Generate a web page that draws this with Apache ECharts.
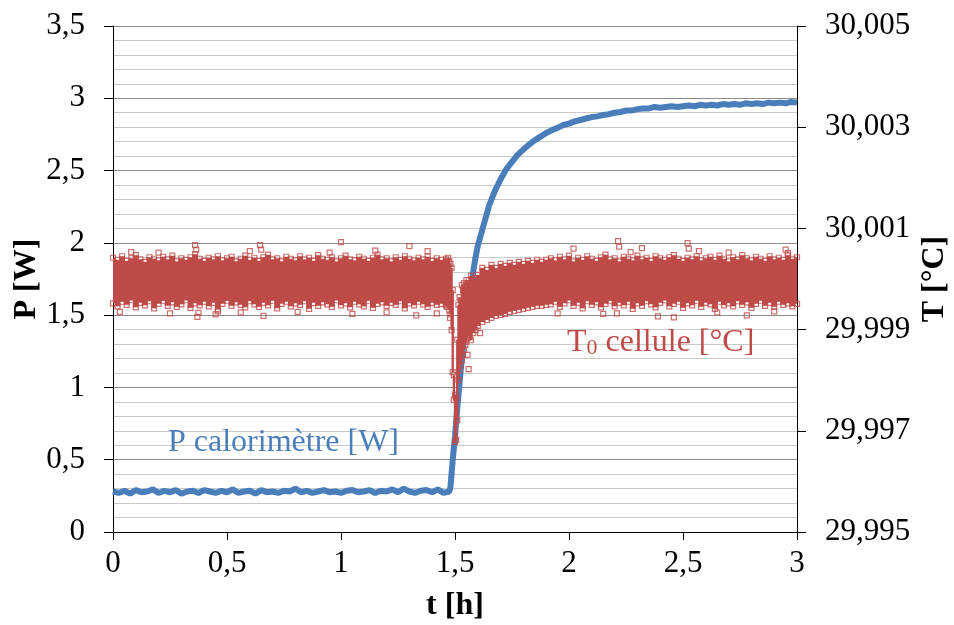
<!DOCTYPE html>
<html>
<head>
<meta charset="utf-8">
<script src="https://cdn.jsdelivr.net/npm/echarts@6/dist/echarts.min.js"></script>
<style>
html,body{margin:0;padding:0;background:#fff;}
#chart{width:954px;height:625px;}
</style>
</head>
<body>
<div id="chart"></div>
<script>
// ---------- Data ----------
// x ticks / axis ranges
const xTicks = [0, 0.5, 1, 1.5, 2, 2.5, 3];
const pTicks = [0, 0.5, 1, 1.5, 2, 2.5, 3, 3.5];
const tTicks = [29.995, 29.997, 29.999, 30.001, 30.003, 30.005];

// P calorimètre [W] : time [h] and power [W]
const tP = [0,0.025,0.05,0.075,0.1,0.125,0.15,0.175,0.2,0.225,0.25,0.275,0.3,0.325,0.35,0.375,0.4,0.425,0.45,0.475,
0.5,0.525,0.55,0.575,0.6,0.625,0.65,0.675,0.7,0.725,0.75,0.775,0.8,0.825,0.85,0.875,0.9,0.925,0.95,0.975,
1,1.025,1.05,1.075,1.1,1.125,1.15,1.175,1.2,1.225,1.25,1.275,1.3,1.325,1.35,1.375,1.4,1.425,1.45,1.475,
1.48,1.49,1.5,1.51,1.52,1.53,1.54,1.55,1.56,1.57,1.58,1.59,
1.6,1.625,1.65,1.675,1.7,1.725,1.75,1.775,1.8,1.825,1.85,1.875,1.9,1.925,1.95,1.975,2,2.025,2.05,2.075,
2.1,2.125,2.15,2.175,2.2,2.225,2.25,2.275,2.3,2.325,2.35,2.375,2.4,2.425,2.45,2.475,2.5,2.525,2.55,2.575,
2.6,2.625,2.65,2.675,2.7,2.725,2.75,2.775,2.8,2.825,2.85,2.875,2.9,2.925,2.95,2.975,3];
const pVal = [0.28,0.27,0.285,0.265,0.29,0.275,0.28,0.295,0.27,0.285,
0.275,0.29,0.265,0.28,0.285,0.27,0.29,0.28,0.27,0.285,
0.275,0.295,0.27,0.28,0.285,0.265,0.29,0.275,0.28,0.27,
0.285,0.28,0.3,0.275,0.285,0.27,0.28,0.29,0.275,0.28,
0.27,0.285,0.29,0.275,0.28,0.29,0.27,0.285,0.28,0.295,
0.275,0.3,0.28,0.27,0.285,0.29,0.275,0.295,0.27,0.28,
0.31,0.5,0.66,0.86,1.03,1.2,1.35,1.46,1.56,1.68,1.8,1.9,
1.98,2.12,2.26,2.36,2.44,2.51,2.56,2.61,2.645,2.68,
2.71,2.735,2.76,2.78,2.795,2.815,2.825,2.84,2.85,2.86,
2.87,2.875,2.885,2.89,2.9,2.905,2.915,2.915,2.925,2.93,
2.93,2.94,2.935,2.94,2.945,2.94,2.945,2.95,2.945,2.955,
2.95,2.955,2.95,2.96,2.955,2.96,2.955,2.965,2.96,2.965,
2.96,2.97,2.965,2.97,2.965,2.975,2.97];

// T0 cellule [°C] : dense scatter band, sampled as time, lower and upper edge
const tBand = [0,0.02,0.04,0.06,0.08,0.1,0.12,0.14,0.16,0.18,0.2,0.22,0.24,0.26,0.28,0.3,0.32,0.34,0.36,0.38,
0.4,0.42,0.44,0.46,0.48,0.5,0.52,0.54,0.56,0.58,0.6,0.62,0.64,0.66,0.68,0.7,0.72,0.74,0.76,0.78,
0.8,0.82,0.84,0.86,0.88,0.9,0.92,0.94,0.96,0.98,1,1.02,1.04,1.06,1.08,1.1,1.12,1.14,1.16,1.18,
1.2,1.22,1.24,1.26,1.28,1.3,1.32,1.34,1.36,1.38,1.4,1.42,1.44,
1.46,1.465,1.47,1.475,1.48,1.485,1.49,1.495,1.5,1.505,1.51,1.515,1.52,1.525,1.53,1.535,1.54,1.545,1.55,1.555,1.56,
1.57,1.58,1.59,1.6,
1.62,1.64,1.66,1.68,1.7,1.72,1.74,1.76,1.78,1.8,1.82,1.84,1.86,1.88,1.9,
1.92,1.94,1.96,1.98,2,2.02,2.04,2.06,2.08,2.1,2.12,2.14,2.16,2.18,2.2,2.22,2.24,2.26,2.28,2.3,
2.32,2.34,2.36,2.38,2.4,2.42,2.44,2.46,2.48,2.5,2.52,2.54,2.56,2.58,2.6,2.62,2.64,2.66,2.68,2.7,
2.72,2.74,2.76,2.78,2.8,2.82,2.84,2.86,2.88,2.9,2.92,2.94,2.96,2.98,3];
const tHi = [30.00042,30.00038,30.00045,30.00036,30.00041,30.00047,30.00039,30.00034,30.00043,30.00040,
30.00037,30.00044,30.00039,30.00046,30.00035,30.00041,30.00038,30.00043,30.00049,30.00040,
30.00036,30.00042,30.00039,30.00045,30.00037,30.00041,30.00044,30.00035,30.00040,30.00046,
30.00038,30.00042,30.00036,30.00043,30.00048,30.00039,30.00041,30.00035,30.00044,30.00040,
30.00037,30.00045,30.00039,30.00042,30.00036,30.00047,30.00040,30.00038,30.00043,30.00035,
30.00041,30.00046,30.00039,30.00037,30.00044,30.00040,30.00036,30.00042,30.00048,30.00039,
30.00041,30.00035,30.00043,30.00038,30.00045,30.00040,30.00037,30.00042,30.00039,30.00044,
30.00036,30.00041,30.00038,
30.00040,30.00036,30.00042,30.00035,30.00030,30.00022,29.99978,29.99810,29.99771,29.99765,
29.99880,29.99949,29.99964,29.99958,29.99988,29.99978,29.99992,29.99984,29.99998,29.99992,29.99998,
30.00006,29.99996,30.00002,30.00008,
30.00022,30.00018,30.00028,30.00022,30.00030,30.00026,30.00032,30.00028,30.00034,30.00030,
30.00036,30.00032,30.00038,30.00034,30.00038,
30.00041,30.00037,30.00044,30.00039,30.00046,30.00035,30.00042,30.00038,30.00045,30.00040,
30.00036,30.00043,30.00048,30.00039,30.00041,30.00035,30.00044,30.00040,30.00037,30.00046,
30.00039,30.00042,30.00036,30.00045,30.00041,30.00038,30.00043,30.00047,30.00040,30.00036,
30.00042,30.00039,30.00045,30.00037,30.00041,30.00044,30.00038,30.00046,30.00040,30.00035,
30.00043,30.00039,30.00047,30.00041,30.00037,30.00044,30.00040,30.00036,30.00045,30.00039,
30.00042,30.00038,30.00046,30.00040,30.00043];
const tLo = [29.99952,29.99946,29.99955,29.99949,29.99958,29.99944,29.99953,29.99948,29.99956,29.99942,
29.99951,29.99957,29.99947,29.99954,29.99945,29.99950,29.99958,29.99943,29.99952,29.99948,
29.99955,29.99946,29.99953,29.99940,29.99951,29.99957,29.99947,29.99954,29.99949,29.99944,
29.99956,29.99950,29.99945,29.99953,29.99948,29.99957,29.99942,29.99951,29.99955,29.99946,
29.99952,29.99949,29.99956,29.99941,29.99953,29.99947,29.99954,29.99950,29.99945,29.99958,
29.99948,29.99952,29.99944,29.99955,29.99950,29.99946,29.99957,29.99943,29.99951,29.99954,
29.99947,29.99953,29.99949,29.99956,29.99942,29.99952,29.99948,29.99955,29.99950,29.99945,
29.99953,29.99949,29.99951,
29.99948,29.99945,29.99950,29.99938,29.99930,29.99899,29.99816,29.99761,29.99678,29.99682,
29.99721,29.99800,29.99820,29.99830,29.99840,29.99850,29.99860,29.99870,29.99876,29.99883,29.99889,
29.99879,29.99893,29.99899,29.99907,
29.99915,29.99919,29.99923,29.99927,29.99929,29.99931,29.99935,29.99937,29.99939,29.99941,
29.99943,29.99945,29.99947,29.99947,29.99949,
29.99950,29.99955,29.99945,29.99952,29.99958,29.99947,29.99953,29.99942,29.99956,29.99949,
29.99954,29.99944,29.99951,29.99957,29.99946,29.99953,29.99948,29.99955,29.99941,29.99952,
29.99947,29.99956,29.99950,29.99944,29.99953,29.99958,29.99946,29.99951,29.99955,29.99943,
29.99952,29.99948,29.99957,29.99945,29.99953,29.99950,29.99941,29.99955,29.99948,29.99952,
29.99946,29.99956,29.99949,29.99954,29.99943,29.99951,29.99957,29.99947,29.99953,29.99945,
29.99955,29.99949,29.99952,29.99946,29.99951];
// isolated T0 points outside the dense band
const tOut = [0.03,0.08,0.2,0.25,0.36,0.365,0.37,0.375,0.45,0.46,0.56,0.6,0.645,0.65,0.66,0.81,0.95,1.0,1.05,1.15,1.2,1.3,1.33,1.38,1.42,
1.478,1.555,1.56,1.61,
1.95,2.02,2.15,2.21,2.215,2.22,2.27,2.32,2.39,2.46,2.52,2.525,2.57,2.65,2.7,2.78,2.9,2.95,2.96];
const vOut = [29.99935,30.00053,30.00052,29.99932,30.00067,30.00058,29.99925,29.99933,29.99930,29.99936,29.99934,30.00055,30.00067,30.00058,29.99927,29.99935,30.00052,30.00073,29.99931,30.00056,29.99934,30.00065,29.99928,30.00055,29.99932,
29.99923,29.99850,29.99822,29.99893,
29.99932,30.00060,29.99931,29.99932,30.00075,30.00064,30.00053,30.00061,29.99926,29.99924,30.00071,30.00060,30.00055,29.99934,30.00052,29.99928,29.99936,30.00058,30.00051];

// ---------- Chart ----------
const FONT = "'Liberation Serif','Times New Roman',serif";
const BLUE = '#4A7EBB';
const RED = '#BE4B48';

const chart = echarts.init(document.getElementById('chart'), null, {renderer: 'canvas'});

const bandData = tBand.map((t, i) => [t, tLo[i], tHi[i]]);
const edgeData = tBand.map((t, i) => [t, tHi[i]]).concat(tBand.map((t, i) => [t, tLo[i]]));
const outData = tOut.map((t, i) => [t, vOut[i]]);
const pData = tP.map((t, i) => [t, pVal[i]]);

const option = {
  animation: false,
  backgroundColor: '#fff',
  textStyle: {fontFamily: FONT},
  grid: {left: 113, right: 157, top: 26, bottom: 93, containLabel: false, outerBoundsMode: 'none'},
  xAxis: {
    type: 'value', min: xTicks[0], max: xTicks[xTicks.length - 1], interval: 0.5,
    axisLine: {show: true, onZero: false, lineStyle: {color: '#000', width: 1}},
    axisTick: {show: true, length: 8, lineStyle: {color: '#000'}},
    splitLine: {show: false},
    axisLabel: {color: '#000', fontSize: 31, fontFamily: FONT, margin: 16,
      formatter: v => String(+v.toFixed(2)).replace('.', ',')},
    name: 't [h]', nameLocation: 'middle', nameGap: 58, nameMoveOverlap: false,
    nameTextStyle: {color: '#000', fontSize: 32, fontWeight: 'bold', fontFamily: FONT}
  },
  yAxis: [{
    type: 'value', position: 'left', min: pTicks[0], max: pTicks[pTicks.length - 1], interval: 0.5,
    axisLine: {show: true, lineStyle: {color: '#000', width: 1}},
    axisTick: {show: true, length: 9, lineStyle: {color: '#000'}},
    splitLine: {show: true, lineStyle: {color: '#8c8c8c', width: 1}},
    minorTick: {show: false, splitNumber: 5},
    minorSplitLine: {show: true, lineStyle: {color: '#c9c9c9', width: 1}},
    axisLabel: {color: '#000', fontSize: 31, fontFamily: FONT, margin: 28,
      formatter: v => String(+v.toFixed(2)).replace('.', ',')},
    name: 'P [W]', nameLocation: 'middle', nameGap: 70, nameRotate: 90, nameMoveOverlap: false,
    nameTextStyle: {color: '#000', fontSize: 32, fontWeight: 'bold', fontFamily: FONT}
  }, {
    type: 'value', position: 'right', min: tTicks[0], max: tTicks[tTicks.length - 1], interval: 0.002,
    axisLine: {show: true, lineStyle: {color: '#000', width: 1}},
    axisTick: {show: true, length: 9, lineStyle: {color: '#000'}},
    splitLine: {show: false},
    axisLabel: {color: '#000', fontSize: 31, fontFamily: FONT, margin: 28,
      formatter: v => (+v).toFixed(3).replace('.', ',')},
    name: 'T [°C]', nameLocation: 'middle', nameGap: 122, nameRotate: 90, nameMoveOverlap: false,
    nameTextStyle: {color: '#000', fontSize: 32, fontWeight: 'bold', fontFamily: FONT}
  }],
  series: [{
    name: 'P calorimètre [W]', type: 'line', xAxisIndex: 0, yAxisIndex: 0,
    data: pData, showSymbol: false, smooth: false,
    lineStyle: {color: BLUE, width: 6}, z: 2
  }, {
    name: 'T0 band', type: 'custom', xAxisIndex: 0, yAxisIndex: 1,
    data: bandData, encode: {x: 0, y: [1, 2]}, z: 3, clip: true,
    renderItem: function (params, api) {
      const i = params.dataIndex, n = tBand.length;
      const t = api.value(0);
      const pHi = api.coord([t, api.value(2)]);
      const pLo = api.coord([t, api.value(1)]);
      const xPrev = api.coord([tBand[Math.max(i - 1, 0)], 30])[0];
      const xNext = api.coord([tBand[Math.min(i + 1, n - 1)], 30])[0];
      const x0 = i === 0 ? pHi[0] : (xPrev + pHi[0]) / 2;
      const x1 = i === n - 1 ? pHi[0] : (xNext + pHi[0]) / 2;
      return {type: 'rect', shape: {x: x0 - 0.6, y: pHi[1], width: x1 - x0 + 1.2, height: pLo[1] - pHi[1]},
        style: {fill: RED}};
    }
  }, {
    name: 'T0 edges', type: 'scatter', xAxisIndex: 0, yAxisIndex: 1,
    data: edgeData, symbol: 'rect', symbolSize: 5, z: 4,
    itemStyle: {color: 'rgba(255,255,255,0)', borderColor: RED, borderWidth: 1.2}
  }, {
    name: 'T0 outliers', type: 'scatter', xAxisIndex: 0, yAxisIndex: 1,
    data: outData, symbol: 'rect', symbolSize: 5, z: 4,
    itemStyle: {color: 'rgba(255,255,255,0)', borderColor: RED, borderWidth: 1.2}
  }],
  graphic: [{
    type: 'text', left: 168, top: 427, z: 10,
    style: {text: 'P calorimètre [W]', fill: BLUE, font: "32px 'Liberation Serif','Times New Roman',serif"}
  }, {
    type: 'text', left: 567, top: 327, z: 10,
    style: {
      text: '{a|T}{b|0}{a| cellule [°C]}',
      rich: {
        a: {fill: RED, fontSize: 32, fontFamily: FONT, lineHeight: 32, verticalAlign: 'bottom'},
        b: {fill: RED, fontSize: 22, fontFamily: FONT, lineHeight: 12, verticalAlign: 'bottom'}
      }
    }
  }]
};
chart.setOption(option);
</script>
</body>
</html>
